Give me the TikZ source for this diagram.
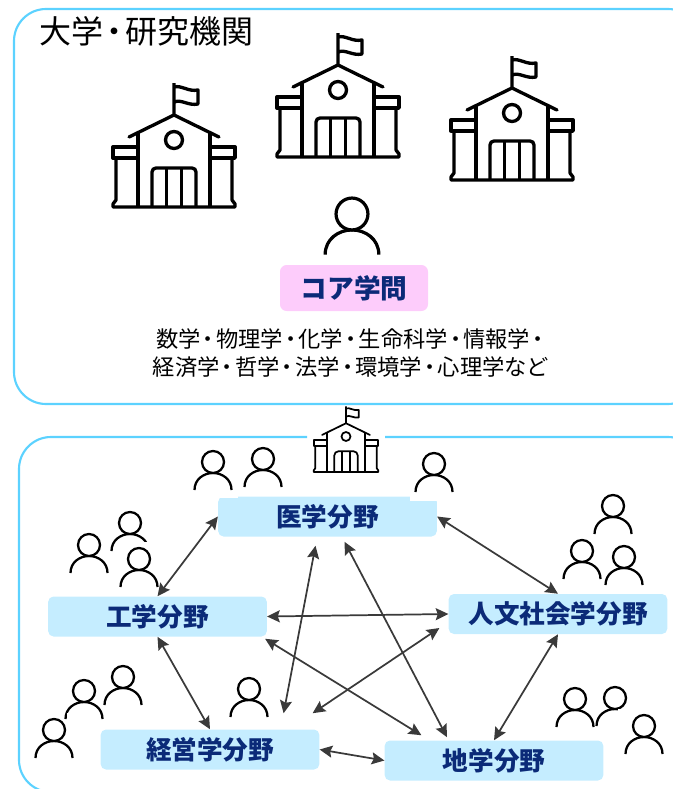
\documentclass[tikz,border=0pt]{standalone}
\usepackage{fontspec}
\usepackage{xcolor}
\usepackage{tikz}
\usetikzlibrary{positioning,arrows.meta}
\setmainfont{Noto Sans CJK JP}
\definecolor{framecol}{HTML}{5CD2FF}
\definecolor{fieldcol}{HTML}{C5EDFF}
\definecolor{corecol}{HTML}{FDCCFB}
\definecolor{labelcol}{HTML}{0B2A78}
\definecolor{linkcol}{HTML}{3A3A3A}
\newcommand{\nakaten}{\kern.1em{\bfseries ･}\kern.1em}

\begin{document}
\begin{tikzpicture}[
  x=0.75pt, y=-0.75pt,
  frame/.style={draw=framecol, line width=1.6pt, rounded corners=24pt},
  field/.style={rectangle, fill=fieldcol, rounded corners=4pt, minimum width=164pt, minimum height=30pt, inner sep=0pt, font=\fontsize{19.2pt}{22pt}\selectfont\bfseries, text=labelcol},
  link/.style={{Stealth[length=9.5pt,width=9pt,inset=1.5pt]}-{Stealth[length=9.5pt,width=9pt,inset=1.5pt]}, draw=linkcol, line width=1.3pt},
  mask/.style={fill=white},
  person/.pic={
    \draw[fill=white] (-18.5,28) .. controls (-18.5,17) and (-9,11) .. (0,11) .. controls (9,11) and (18.5,17) .. (18.5,28);
    \draw[fill=white] (0,0) circle [radius=11];
  },
  school/.pic={
    \draw[line join=round] (0,-92) -- (0,-124) (0,-120) .. controls (8,-122) and (14,-115) .. (24,-117) -- (24,-103) .. controls (14,-101) and (8,-108) .. (0,-105);
    \draw[line join=round, line cap=round] (-45,-70) -- (0,-92) -- (45,-70);
    \draw (-36,-74) -- (-36,0) (36,-74) -- (36,0);
    \draw (0,-67) circle [radius=8.5];
    \draw[rounded corners=3pt] (-22,0) -- (-22,-39) -- (22,-39) -- (22,0);
    \draw (-7.5,-39) -- (-7.5,0) (7.5,-39) -- (7.5,0);
    \draw[line join=round] (-36,-60) -- (-61,-60) -- (-61,-49) -- (-36,-49);
    \draw[line join=round] (36,-60) -- (61,-60) -- (61,-49) -- (36,-49);
    \draw[line join=round] (-58,-49) -- (-58,-7) -- (-61,-3) -- (-61,0) -- (61,0) -- (61,-3) -- (58,-7) -- (58,-49);
  },
  schoolbig/.style={line width=2.5pt},
  schoolsmall/.style={scale=0.53, line width=1.3pt},
  personbig/.style={scale=1.45, line width=2.4pt},
  personsmall/.style={line width=1.7pt}
]
\useasboundingbox (0,0) rectangle (673,789);
\clip (0,0) rectangle (673,789);

% Frames
\draw[frame] (14,9) rectangle (700,404);
\draw[frame] (307,437) -- (19,437) -- (19,792) -- (700,792) -- (700,437) -- (385,437);

% Upper frame
\node[anchor=west, inner sep=0pt, font=\fontsize{24pt}{28pt}\selectfont] (title) at (39,31) {大学\nakaten 研究機関};
\pic[schoolbig] (school1) at (174,207) {school};
\pic[schoolbig] (school2) at (338,157) {school};
\pic[schoolbig] (school3) at (512,180) {school};
\pic[personbig] (person0) at (352,214) {person};
\node[rectangle, fill=corecol, rounded corners=5pt, minimum width=111pt, minimum height=34.5pt, inner sep=0pt, font=\fontsize{20pt}{23pt}\selectfont\bfseries, text=labelcol] (core) at (354,288) {\raisebox{-0.8pt}{コア学問}};
\node[align=center, inner sep=0pt, font=\fontsize{16.7pt}{21pt}\selectfont] (subjects) at (351,353) {数学\nakaten 物理学\nakaten 化学\nakaten 生命科学\nakaten 情報学\nakaten\\経済学\nakaten 哲学\nakaten 法学\nakaten 環境学\nakaten 心理学など};

% Lower frame
\pic[schoolsmall] (school4) at (346,472) {school};

\pic[personsmall] (person1) at (213,462) {person};
\pic[personsmall] (person2) at (263,459) {person};
\pic[personsmall] (person3) at (434,464) {person};
\pic[personsmall] (person4) at (130,523) {person};
\pic[personsmall] (person5) at (89,545) {person};
\fill[mask] (120,542) rectangle (160,590);
\pic[personsmall] (person6) at (139,559) {person};
\pic[personsmall] (person7) at (123,677) {person};
\pic[personsmall] (person8) at (84,691) {person};
\fill[mask] (67,713) rectangle (98,730);
\pic[personsmall] (person9) at (54,730) {person};
\pic[personsmall] (person10) at (249,689) {person};
\pic[personsmall] (person11) at (613,506) {person};
\pic[personsmall] (person12) at (582,551) {person};
\pic[personsmall] (person13) at (624,557) {person};
\pic[personsmall] (person14) at (575,699) {person};
\pic[personsmall] (person15) at (615,698) {person};
\fill[mask] (618,709) rectangle (668,760);
\pic[personsmall] (person16) at (644,726) {person};

% Fields
\node[field] (med) at (327.5,516.5) {\raisebox{-0.5pt}{医学分野}};
\fill[mask] (217,495) rectangle (238,498);
\fill[mask] (410,495) rectangle (438,501);
\node[field] (eng) at (157.5,616.5) {工学分野};
\node[field] (hum) at (558,614) {\raisebox{-0.5pt}{人文社会学分野}};
\node[field] (mgmt) at (210,749.5) {経営学分野};
\node[field] (geo) at (494,760.5) {地学分野};

% Links
\draw[link] (med.west) -- (eng.north);
\draw[link] (med.east) -- (hum.north);
\draw[link] (eng.south) -- (mgmt.north);
\draw[link] (hum.south) -- (geo.north);
\draw[link] (mgmt.east) -- (geo.west);
\draw[link] (eng.east) -- (hum.west);
\draw[link] ([shift={(-12,9)}]med.south) -- ([shift={(-36,-16)}]mgmt.north east);
\draw[link] ([shift={(17,5)}]med.south) -- ([shift={(-47,-3)}]geo.north);
\draw[link] ([shift={(-2,2)}]eng.south east) -- ([shift={(37,-5)}]geo.north west);
\draw[link] ([shift={(-9,14)}]hum.west) -- ([shift={(-7,-16)}]mgmt.north east);

\end{tikzpicture}
\end{document}
